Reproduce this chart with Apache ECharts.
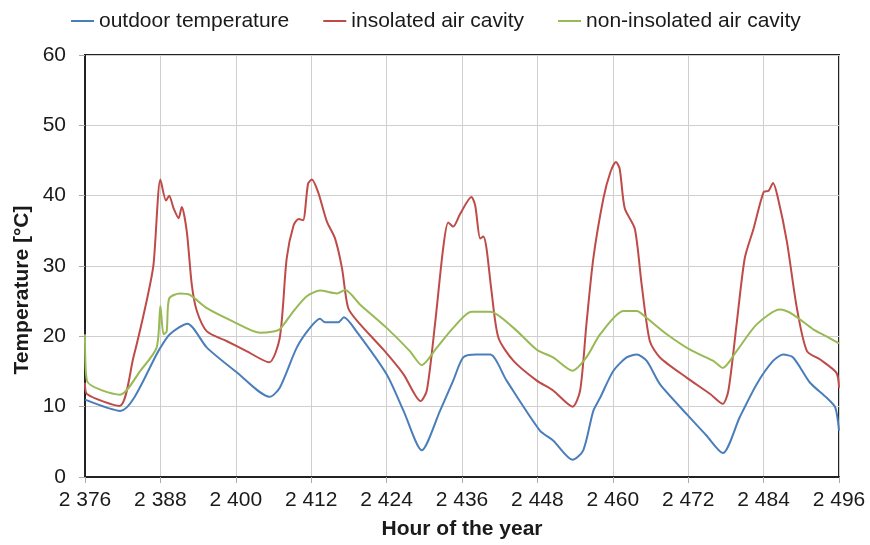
<!DOCTYPE html>
<html>
<head>
<meta charset="utf-8">
<script src="https://cdn.jsdelivr.net/npm/echarts@6/dist/echarts.min.js"></script>
<style>html,body{margin:0;padding:0;background:#fff;}#c{width:870px;height:545px;}</style>
</head>
<body>
<div id="c"></div>
<script>
var seriesNames = ['outdoor temperature', 'insolated air cavity', 'non-insolated air cavity'];
var xTicks = [2376, 2388, 2400, 2412, 2424, 2436, 2448, 2460, 2472, 2484, 2496];
var yTicks = [0, 10, 20, 30, 40, 50, 60];

var outdoorHours = [2376, 2381.6, 2388, 2389.5, 2392.3, 2395.4, 2400, 2405.4, 2407, 2409.7, 2411.8, 2413.4, 2414.2, 2416.3, 2417.2, 2419.2, 2424, 2426.7, 2429.6, 2432.5, 2434.6, 2436.2, 2438.3, 2440.5, 2443.1, 2448.4, 2450.5, 2453.6, 2455.3, 2456.9, 2458, 2460.1, 2462.2, 2463.8, 2465.4, 2467.5, 2471.8, 2474.9, 2477.5, 2480.2, 2482.9, 2485.5, 2487.1, 2488.7, 2491.4, 2494, 2495.4, 2496];
var outdoorTemp = [11.0, 9.4, 18.4, 20.3, 21.8, 18.4, 15.0, 11.4, 12.7, 18.4, 21.2, 22.5, 22.0, 22.0, 22.7, 20.7, 14.6, 9.4, 3.8, 9.4, 13.7, 17.0, 17.4, 17.4, 13.7, 6.6, 5.2, 2.45, 3.8, 9.4, 11.3, 15.1, 17.0, 17.4, 16.5, 13.2, 8.9, 5.9, 3.4, 8.5, 13.2, 16.5, 17.4, 17.0, 13.4, 11.3, 9.9, 6.6];

var insolatedHours = [2376, 2376.3, 2381.5, 2383.7, 2385.8, 2386.9, 2388, 2388.9, 2389.4, 2390.1, 2390.9, 2391.4, 2392.2, 2393, 2393.8, 2395.4, 2398.6, 2401.7, 2405.3, 2407, 2408.1, 2409.2, 2410, 2410.7, 2411.5, 2412.1, 2413.1, 2414.5, 2415.8, 2416.9, 2417.9, 2419.8, 2423.5, 2426.7, 2429.4, 2430.4, 2431.7, 2433, 2433.8, 2434.6, 2435.7, 2437.5, 2438.1, 2438.9, 2439.4, 2439.9, 2440.7, 2441.8, 2444.2, 2447.9, 2450.5, 2453.6, 2454.8, 2455.8, 2456.9, 2458.5, 2459.6, 2460.5, 2461.1, 2461.9, 2463.5, 2464.6, 2465.9, 2467.5, 2471.8, 2475.5, 2477.5, 2478.4, 2479.7, 2481, 2482.4, 2484, 2484.8, 2485.5, 2486.3, 2487.7, 2489.3, 2490.9, 2493, 2495.6, 2496];
var insolatedTemp = [13.4, 11.8, 10.1, 17.0, 25.0, 30.2, 42.3, 39.3, 40.0, 38.2, 36.8, 38.4, 34.9, 27.3, 23.6, 20.7, 19.3, 17.9, 16.3, 19.8, 31.1, 35.8, 36.7, 36.5, 41.7, 42.3, 40.5, 36.3, 33.9, 29.7, 24.0, 21.7, 18.1, 14.6, 10.8, 12.3, 21.7, 32.5, 36.2, 35.6, 37.4, 39.8, 38.6, 33.9, 34.2, 32.5, 26.4, 19.8, 16.5, 13.7, 12.3, 10.0, 12.3, 21.7, 31.1, 39.6, 43.3, 44.8, 43.8, 38.2, 35.3, 27.3, 19.3, 17.0, 14.1, 11.8, 10.4, 12.3, 21.7, 31.1, 35.3, 40.5, 40.7, 41.8, 39.6, 33.5, 24.0, 17.9, 16.7, 14.8, 12.7];

var nonInsolatedHours = [2376, 2376.3, 2381.6, 2384.8, 2387.4, 2388, 2388.5, 2389, 2389.4, 2391.1, 2392.7, 2395.4, 2399.6, 2403.9, 2406, 2407, 2409.2, 2411.3, 2413.4, 2416.1, 2417.4, 2419.8, 2424, 2427.7, 2429.6, 2432, 2434.6, 2437.5, 2440.5, 2444.2, 2447.9, 2450.5, 2453.6, 2455.8, 2458, 2461.7, 2463.8, 2465.4, 2468.6, 2472.3, 2476, 2477.5, 2479.7, 2482.9, 2486.6, 2488.7, 2491.9, 2494, 2496];
var nonInsolatedTemp = [20.3, 13.7, 11.7, 15.1, 18.4, 24.3, 20.3, 20.7, 25.4, 26.1, 25.9, 24.0, 22.1, 20.5, 20.7, 21.0, 23.6, 25.7, 26.5, 26.1, 26.6, 24.5, 21.2, 17.9, 15.9, 18.4, 21.2, 23.5, 23.5, 21.2, 18.1, 17.0, 15.1, 17.0, 20.3, 23.6, 23.6, 22.6, 20.3, 18.1, 16.5, 15.5, 17.9, 21.7, 23.8, 23.1, 21.0, 20.0, 19.0];

var colors = ['#4a7ebb', '#be4b48', '#98b954'];

function pairs(xs, ys) { return xs.map(function (x, i) { return [x, ys[i]]; }); }
function fmt(v) { return String(v).replace(/\B(?=(\d{3})+(?!\d))/g, ' '); }

var font = 'Liberation Sans, Arial, sans-serif';
var chart = echarts.init(document.getElementById('c'));
var allData = [pairs(outdoorHours, outdoorTemp), pairs(insolatedHours, insolatedTemp), pairs(nonInsolatedHours, nonInsolatedTemp)];

chart.setOption({
  animation: false,
  color: colors,
  legend: {
    left: 71, top: 10, padding: 0,
    itemWidth: 23, itemHeight: 2, itemGap: 34,
    icon: 'rect',
    textStyle: { fontFamily: font, fontSize: 21, color: '#1a1a1a', lineHeight: 22 },
    data: seriesNames
  },
  grid: { left: 85, right: 31, top: 55, bottom: 65, show: true, borderColor: '#222', borderWidth: 2, backgroundColor: 'transparent' },
  xAxis: {
    type: 'value', min: xTicks[0], max: xTicks[xTicks.length - 1], interval: 12,
    axisLine: { lineStyle: { color: '#222', width: 2 } },
    axisTick: { show: true, length: 6, lineStyle: { color: '#aaa' } },
    axisLabel: { formatter: fmt, fontFamily: font, fontSize: 21, color: '#1a1a1a', margin: 13 },
    splitLine: { show: true, lineStyle: { color: '#cfcfcf', width: 1 } },
    name: 'Hour of the year', nameLocation: 'middle', nameGap: 42,
    nameTextStyle: { fontFamily: font, fontSize: 21, fontWeight: 'bold', color: '#1a1a1a' }
  },
  yAxis: {
    type: 'value', min: yTicks[0], max: yTicks[yTicks.length - 1], interval: 10,
    axisLine: { show: true, lineStyle: { color: '#222', width: 2 } },
    axisTick: { show: true, length: 6, lineStyle: { color: '#aaa' } },
    axisLabel: { fontFamily: font, fontSize: 21, color: '#1a1a1a', margin: 19 },
    splitLine: { show: true, lineStyle: { color: '#cfcfcf', width: 1 } }
  },
  graphic: [{
    type: 'text', x: 22, y: 290, rotation: Math.PI / 2,
    style: { text: 'Temperature [°C]', fontFamily: font, fontSize: 21, fontWeight: 'bold', fill: '#1a1a1a', align: 'center', verticalAlign: 'middle' }
  }],
  series: seriesNames.map(function (n, i) {
    return {
      name: n, type: 'line', data: allData[i], showSymbol: false, smooth: 0.25,
      lineStyle: { width: 2, color: colors[i] }, itemStyle: { color: colors[i] }, z: 2 + i
    };
  })
});
</script>
</body>
</html>
